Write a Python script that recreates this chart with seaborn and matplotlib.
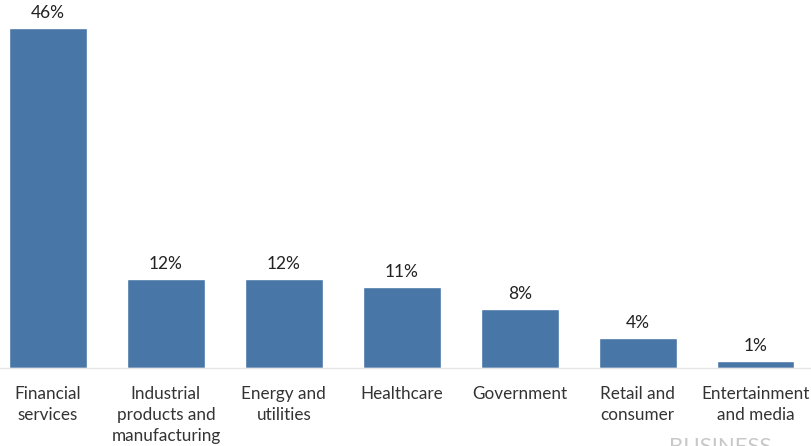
import numpy as np
import pandas as pd
import seaborn as sns
import matplotlib.pyplot as plt

categories = ["Financial\nservices", "Industrial\nproducts and\nmanufacturing", "Energy and\nutilities",
              "Healthcare", "Government", "Retail and\nconsumer", "Entertainment\nand media"]
values = [46, 12, 12, 11, 8, 4, 1]
labels = ["46%", "12%", "12%", "11%", "8%", "4%", "1%"]

df = pd.DataFrame({"sector": categories, "share": values})

sns.set_style("white")
plt.rcParams['font.family'] = ['Lato', 'DejaVu Sans']

fig = plt.figure(figsize=(8.11, 4.46), dpi=100)
ax = fig.add_axes([0, 0.1749, 1, 0.8251])

sns.barplot(data=df, x="sector", y="share", color="#4876a6", width=0.66, saturation=1, ax=ax)

for i, (v, lab) in enumerate(zip(values, labels)):
    ax.annotate(lab, (i, v), xytext=(0, 5), textcoords="offset points",
                ha="center", va="bottom", fontsize=12.5, color="#222222")

ax.set_xlim(-0.407, 6.47)
ax.set_ylim(0, 49.8)
ax.set_xlabel("")
ax.set_ylabel("")
ax.set_yticks([])
ax.tick_params(axis="x", length=0, pad=13, labelsize=12.3, labelcolor="#333333")
for lbl in ax.get_xticklabels():
    lbl.set_linespacing(1.4)
sns.despine(ax=ax, left=True, top=True, right=True)
ax.spines["bottom"].set_color("#e6e6e6")
ax.spines["bottom"].set_linewidth(1)

fig.text(0.825, -0.025, "BUSINESS", fontsize=16, color="#c8c8c8", ha="left", va="bottom")

fig.savefig("out.png", dpi=100)
